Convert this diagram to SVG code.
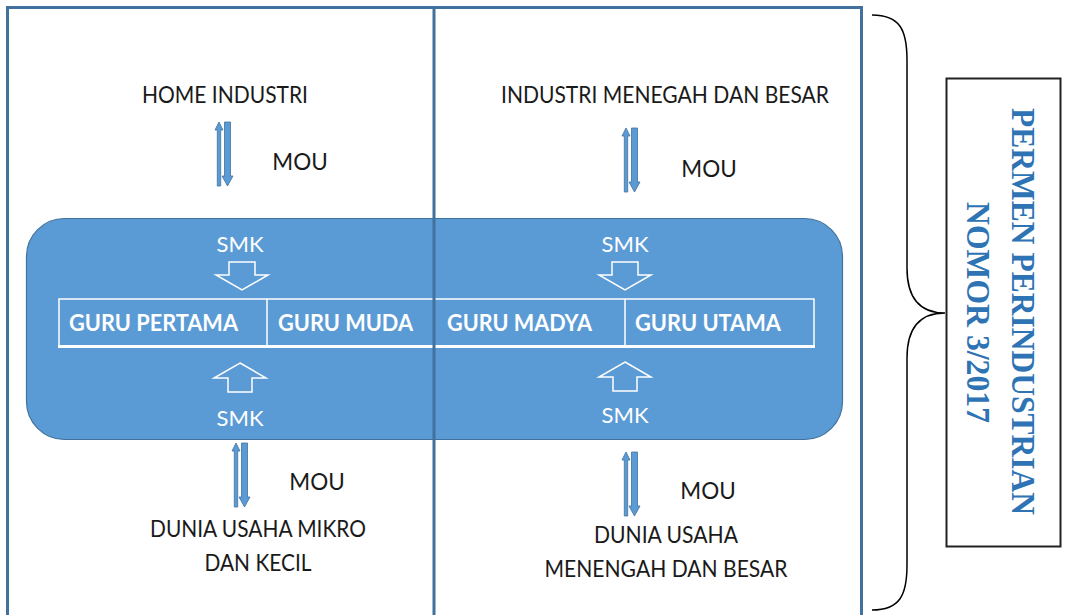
<svg xmlns="http://www.w3.org/2000/svg" width="1066" height="615" viewBox="0 0 1066 615">
<style>
.t{font-family:Lato,"Liberation Sans",sans-serif;font-size:22.5px;fill:#1a1a1a;text-anchor:middle}
.w{font-family:Lato,"Liberation Sans",sans-serif;font-size:22px;fill:#ffffff;text-anchor:middle}
.g{font-family:Lato,"Liberation Sans",sans-serif;font-size:22px;font-weight:bold;fill:#ffffff}
.p{font-family:"Liberation Serif","Times New Roman",serif;font-size:34px;font-weight:bold;fill:#2E74B5}
.frame{fill:none;stroke:#41719C;stroke-width:3}
.hollow{fill:none;stroke:#ffffff;stroke-width:1.5;stroke-linejoin:miter}
.tl{stroke:#ffffff;stroke-width:1.5;fill:none}
</style>
<defs>
<g id="dbl">
<polygon points="4,0 0,8 2.3,8 2.3,64 5.7,64 5.7,8 8,8" fill="#5B9BD5" stroke="#41719C" stroke-width="0.8"/>
<polygon points="9.5,0 15.5,0 15.5,54 18,54 12.5,64 7,54 9.5,54" fill="#5B9BD5" stroke="#41719C" stroke-width="0.8"/>
</g>
<polygon id="hdown" points="-13,0 13,0 13,13 26,13 0,28 -26,13 -13,13"/>
<polygon id="hup" points="0,0 26,15 12,15 12,29 -12,29 -12,15 -26,15"/>
</defs>
<rect width="1066" height="615" fill="#ffffff"/>

<g id="frame">
<rect class="frame" x="7.5" y="7.5" width="854" height="610"/>
<line class="frame" x1="434" y1="7" x2="434" y2="615"/>
</g>

<g id="smk-band">
<rect x="26.5" y="218.5" width="816" height="221" rx="38" ry="38" fill="#5B9BD5" stroke="#41719C" stroke-width="1.2"/>
</g>

<g id="table">
<rect class="tl" x="59" y="299" width="755" height="47"/>
<line class="tl" x1="267" y1="299" x2="267" y2="346"/>
<line class="tl" x1="625" y1="299" x2="625" y2="346"/>
<line x1="58" y1="346.5" x2="815" y2="346.5" stroke="#ffffff" stroke-width="3"/>
<text class="g" x="69" y="331" textLength="169" lengthAdjust="spacingAndGlyphs">GURU PERTAMA</text>
<text class="g" x="278" y="331" textLength="135" lengthAdjust="spacingAndGlyphs">GURU MUDA</text>
<text class="g" x="447" y="331" textLength="145" lengthAdjust="spacingAndGlyphs">GURU MADYA</text>
<text class="g" x="635" y="331" textLength="146" lengthAdjust="spacingAndGlyphs">GURU UTAMA</text>
</g>

<line class="frame" x1="434" y1="218" x2="434" y2="440"/>

<g id="home-industri">
<text class="t" x="225" y="103" textLength="166" lengthAdjust="spacingAndGlyphs">HOME INDUSTRI</text>
</g>
<g id="industri-menegah">
<text class="t" x="665" y="103" textLength="328" lengthAdjust="spacingAndGlyphs">INDUSTRI MENEGAH DAN BESAR</text>
</g>
<g id="dunia-mikro">
<text class="t" x="258" y="537" textLength="216" lengthAdjust="spacingAndGlyphs">DUNIA USAHA MIKRO</text>
<text class="t" x="258" y="571" textLength="107" lengthAdjust="spacingAndGlyphs">DAN KECIL</text>
</g>
<g id="dunia-menengah">
<text class="t" x="666" y="543" textLength="144" lengthAdjust="spacingAndGlyphs">DUNIA USAHA</text>
<text class="t" x="666" y="577" textLength="243" lengthAdjust="spacingAndGlyphs">MENENGAH DAN BESAR</text>
</g>

<g id="smk-labels">
<text class="w" x="240" y="252">SMK</text>
<text class="w" x="625" y="252">SMK</text>
<text class="w" x="240" y="426">SMK</text>
<text class="w" x="625" y="423">SMK</text>
</g>

<g id="connectors">
<use href="#dbl" x="215" y="122"/>
<use href="#dbl" x="622" y="128"/>
<use href="#dbl" x="232" y="443"/>
<use href="#dbl" x="622" y="452"/>
<use href="#hdown" class="hollow" x="242" y="262"/>
<use href="#hdown" class="hollow" x="625" y="262"/>
<use href="#hup" class="hollow" x="240" y="363"/>
<use href="#hup" class="hollow" x="625" y="362"/>
<text class="t" x="300" y="170">MOU</text>
<text class="t" x="709" y="177">MOU</text>
<text class="t" x="317" y="490">MOU</text>
<text class="t" x="708" y="499">MOU</text>
</g>

<g id="brace">
<path d="M872,15 C900,15 907,30 907,60 L907,268 C907,298 920,313 945,313 C920,313 907,328 907,358 L907,565 C907,595 900,610 872,610" fill="none" stroke="#000000" stroke-width="1.5"/>
</g>

<g id="permen">
<rect x="946.5" y="78.5" width="114" height="468" fill="#ffffff" stroke="#222222" stroke-width="2"/>
<text class="p" transform="translate(1012,108) rotate(90)" textLength="407" lengthAdjust="spacingAndGlyphs">PERMEN PERINDUSTRIAN</text>
<text class="p" transform="translate(967,202) rotate(90)" textLength="221" lengthAdjust="spacingAndGlyphs">NOMOR 3/2017</text>
</g>
</svg>
